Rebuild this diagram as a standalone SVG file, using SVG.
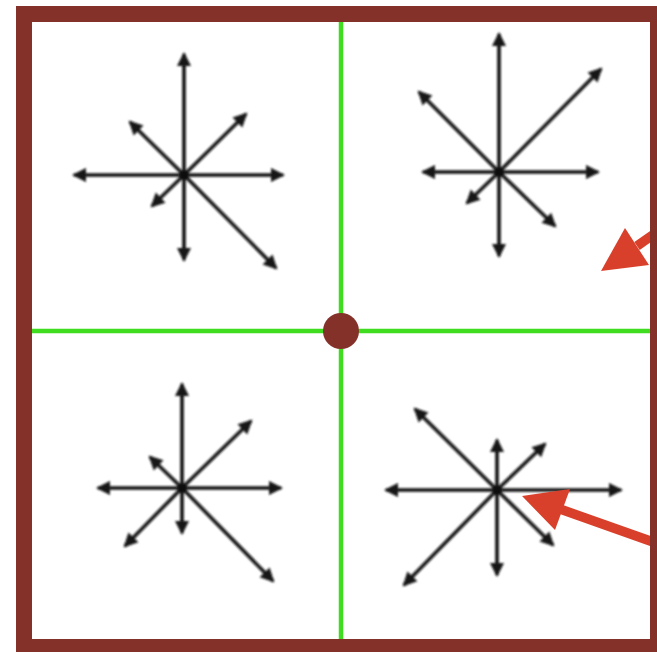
<svg xmlns="http://www.w3.org/2000/svg" width="657" height="652" viewBox="0 0 657 652">
<defs>
<style>
.ar{stroke:#141414;stroke-width:3.6;fill:none;marker-end:url(#ah)}
.grid{stroke:#3fdc1f;stroke-width:4.5}
.red{fill:#d9402b}
.redl{stroke:#d9402b;stroke-width:9.5}
</style>
<marker id="ah" markerUnits="userSpaceOnUse" viewBox="-14 -8 18 16" refX="0" refY="0" markerWidth="18" markerHeight="16" orient="auto">
<path d="M2,0 L-12,-7 L-12,7 Z" fill="#141414"/>
</marker>
<filter id="soft" x="-10%" y="-10%" width="120%" height="120%"><feGaussianBlur stdDeviation="0.9"/></filter>
</defs>
<rect x="0" y="0" width="657" height="652" fill="#ffffff"/>
<g id="grid">
<line class="grid" x1="341" y1="22" x2="341" y2="640"/>
<line class="grid" x1="32" y1="331" x2="650" y2="331"/>
</g>
<g id="star-tl" filter="url(#soft)">
<line class="ar" x1="184" y1="175" x2="184" y2="54"/>
<line class="ar" x1="184" y1="175" x2="184" y2="260"/>
<line class="ar" x1="184" y1="175" x2="74" y2="175"/>
<line class="ar" x1="184" y1="175" x2="283" y2="175"/>
<line class="ar" x1="184" y1="175" x2="246" y2="114"/>
<line class="ar" x1="184" y1="175" x2="130" y2="122"/>
<line class="ar" x1="184" y1="175" x2="152" y2="206"/>
<line class="ar" x1="184" y1="175" x2="276" y2="268"/>
<circle cx="184" cy="175" r="4.5" fill="#111"/>
</g>
<g id="star-tr" filter="url(#soft)">
<line class="ar" x1="499" y1="172" x2="499" y2="34"/>
<line class="ar" x1="499" y1="172" x2="499" y2="256"/>
<line class="ar" x1="499" y1="172" x2="423" y2="172"/>
<line class="ar" x1="499" y1="172" x2="598" y2="172"/>
<line class="ar" x1="499" y1="172" x2="601" y2="69"/>
<line class="ar" x1="499" y1="172" x2="419" y2="92"/>
<line class="ar" x1="499" y1="172" x2="467" y2="203"/>
<line class="ar" x1="499" y1="172" x2="555" y2="226"/>
<circle cx="499" cy="172" r="4.5" fill="#111"/>
</g>
<g id="star-bl" filter="url(#soft)">
<line class="ar" x1="182" y1="488" x2="182" y2="384"/>
<line class="ar" x1="182" y1="488" x2="182" y2="533"/>
<line class="ar" x1="182" y1="488" x2="98" y2="488"/>
<line class="ar" x1="182" y1="488" x2="281" y2="488"/>
<line class="ar" x1="182" y1="488" x2="251" y2="421"/>
<line class="ar" x1="182" y1="488" x2="150" y2="457"/>
<line class="ar" x1="182" y1="488" x2="125" y2="546"/>
<line class="ar" x1="182" y1="488" x2="273" y2="581"/>
<circle cx="182" cy="488" r="4.5" fill="#111"/>
</g>
<g id="star-br" filter="url(#soft)">
<line class="ar" x1="497" y1="490" x2="497" y2="440"/>
<line class="ar" x1="497" y1="490" x2="497" y2="575"/>
<line class="ar" x1="497" y1="490" x2="386" y2="490"/>
<line class="ar" x1="497" y1="490" x2="621" y2="490"/>
<line class="ar" x1="497" y1="490" x2="545" y2="444"/>
<line class="ar" x1="497" y1="490" x2="415" y2="409"/>
<line class="ar" x1="497" y1="490" x2="404" y2="585"/>
<line class="ar" x1="497" y1="490" x2="553" y2="545"/>
<circle cx="497" cy="490" r="4.5" fill="#111"/>
</g>
<g id="pointers">
<line class="redl" x1="637" y1="246" x2="670" y2="223"/>
<polygon class="red" points="601,271 625,228 649,265"/>
<line class="redl" x1="560" y1="509" x2="670" y2="548"/>
<polygon class="red" points="522,496 570,489 555,530"/>
</g>
<g id="frame">
<rect x="24" y="14" width="634" height="633" fill="none" stroke="#84312a" stroke-width="16"/>
</g>
<g id="origin">
<circle cx="341" cy="331" r="18" fill="#84312a"/>
</g>
</svg>
